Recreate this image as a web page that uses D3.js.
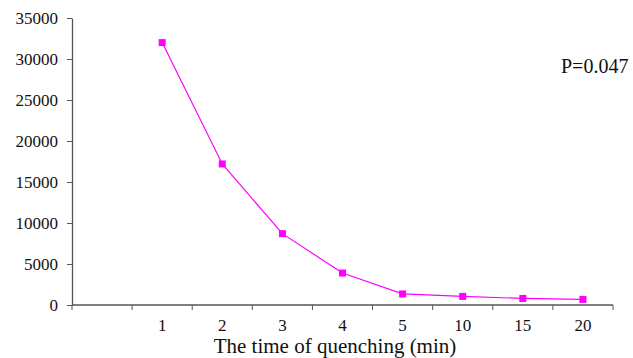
<!DOCTYPE html>
<html>
<head>
<meta charset="utf-8">
<script src="https://cdn.jsdelivr.net/npm/d3@7"></script>
<style>
  body { margin: 0; background: #fff; }
  text { font-family: "Liberation Serif", "Times New Roman", serif; fill: #111; }
</style>
</head>
<body>
<div class="container"></div>
<script>
const width = 633,
    height = 358;

// categories (first slot is empty, as in the original)
const times = ['', '1', '2', '3', '4', '5', '10', '15', '20'];
const intensity = [32000, 17200, 8700, 3900, 1350, 1050, 800, 680];
const yTicks = [0, 5000, 10000, 15000, 20000, 25000, 30000, 35000];
const note = 'P=0.047';
const xTitle = 'The time of quenching (min)';

const margin = { top: 18, right: 20, bottom: 53, left: 72 };

const svg = d3.select('.container')
    .append('svg')
    .attr('width', width)
    .attr('height', height);

const x = d3.scaleBand()
    .domain(times)
    .range([margin.left, width - margin.right]);

const y = d3.scaleLinear()
    .domain([0, 35000])
    .range([height - margin.bottom, margin.top]);

// y axis
const yAxis = svg.append('g')
    .attr('transform', `translate(${margin.left},0)`)
    .call(d3.axisLeft(y).tickValues(yTicks).tickFormat(d3.format('d'))
        .tickSize(5).tickPadding(9).tickSizeOuter(0));

yAxis.attr('font-size', null).attr('font-family', null);
yAxis.select('.domain').attr('stroke', '#555').attr('stroke-width', 1.3);
yAxis.selectAll('.tick line').attr('stroke', '#555');
yAxis.selectAll('.tick text')
    .style('font-size', '17px');

// x axis, ticks on band edges
const xAxis = svg.append('g')
    .attr('transform', `translate(0,${y(0)})`);

xAxis.append('line')
    .attr('x1', x.range()[0])
    .attr('x2', x.range()[1])
    .attr('stroke', '#555')
    .attr('stroke-width', 1.3);

const edges = times.map(d => x(d)).concat([x.range()[1]]);
xAxis.selectAll('.edge')
    .data(edges)
    .enter()
    .append('line')
    .attr('class', 'edge')
    .attr('x1', d => d)
    .attr('x2', d => d)
    .attr('y1', 0)
    .attr('y2', 5)
    .attr('stroke', '#555');

xAxis.selectAll('.xlabel')
    .data(times.filter(d => d !== ''))
    .enter()
    .append('text')
    .attr('class', 'xlabel')
    .attr('x', d => x(d) + x.bandwidth() / 2)
    .attr('y', 26)
    .attr('text-anchor', 'middle')
    .style('font-size', '17px')
    .text(d => d);

svg.append('text')
    .attr('x', 335)
    .attr('y', 353)
    .attr('text-anchor', 'middle')
    .style('font-size', '21px')
    .text(xTitle);

// series
const pts = intensity.map((v, i) => ({ t: times[i + 1], v: v }));

svg.append('path')
    .datum(pts)
    .attr('fill', 'none')
    .attr('stroke', '#ff00ff')
    .attr('stroke-width', 1.2)
    .attr('d', d3.line()
        .x(d => x(d.t) + x.bandwidth() / 2)
        .y(d => y(d.v)));

svg.selectAll('.marker')
    .data(pts)
    .enter()
    .append('rect')
    .attr('class', 'marker')
    .attr('x', d => x(d.t) + x.bandwidth() / 2 - 3.5)
    .attr('y', d => y(d.v) - 3.5)
    .attr('width', 7)
    .attr('height', 7)
    .attr('fill', '#ff00ff');

svg.append('text')
    .attr('x', 561)
    .attr('y', 73)
    .style('font-size', '20px')
    .text(note);
</script>
</body>
</html>
